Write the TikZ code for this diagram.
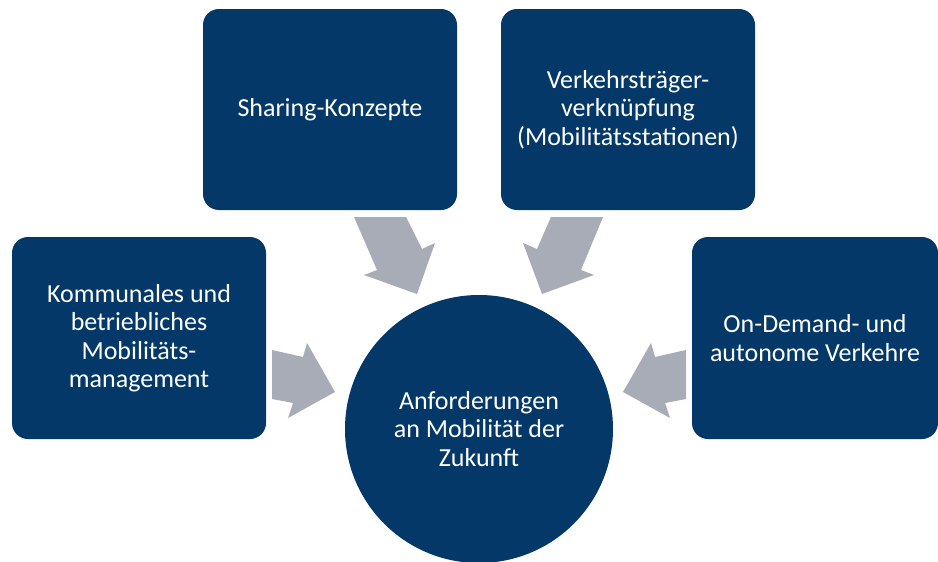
\documentclass[tikz,border=0pt]{standalone}
\usepackage{fontspec}
\setmainfont{Carlito}
\definecolor{navy}{RGB}{3,56,104}
\definecolor{arrowgray}{RGB}{168,172,182}
\begin{document}
\begin{tikzpicture}[x=1pt,y=-1pt,
  box/.style={draw=none, fill=navy, rounded corners=16pt, inner sep=0pt,
    text=white, align=center, font=\fontsize{26}{28.5}\selectfont},
  blockarrow/.style={fill=arrowgray}]
\useasboundingbox (0,0) rectangle (938,562);
\fill[white] (0,0) rectangle (938,562);

% boxes
\node[box, minimum width=254pt, minimum height=202pt] (mgmt) at (139,338)
  {Kommunales und\\betriebliches\\Mobilitäts-\\management};
\node[box, minimum width=254pt, minimum height=201pt] (sharing) at (330,109.5)
  {Sharing-Konzepte};
\node[box, minimum width=254pt, minimum height=201pt] (link) at (628,109.5)
  {Verkehrsträger-\\verknüpfung\\(Mobilitätsstationen)};
\node[box, minimum width=246pt, minimum height=202pt] (ondemand) at (815,338)
  {On-Demand- und\\autonome Verkehre};

% centre circle
\node[circle, fill=navy, minimum size=268pt, inner sep=0pt, text=white,
  align=center, font=\fontsize{26}{28.5}\selectfont] (goal) at (479,429)
  {Anforderungen\\an Mobilität der\\Zukunft};

% block arrows
\fill[blockarrow] (354,217) -- (406,217) -- (422,249) -- (435,243) -- (417,294)
  -- (364,275) -- (377,270) -- cycle;
\fill[blockarrow] (603,217) -- (551,217) -- (537,249) -- (523,243) -- (542,294)
  -- (594,275) -- (581,270) -- cycle;
\fill[blockarrow] (272,350) -- (303,357) -- (307,343) -- (335,392) -- (288,418)
  -- (293,403) -- (272,399) -- cycle;
\fill[blockarrow] (686,350) -- (655,357) -- (651,343) -- (623,392) -- (670,418)
  -- (665,403) -- (686,399) -- cycle;
\end{tikzpicture}
\end{document}
